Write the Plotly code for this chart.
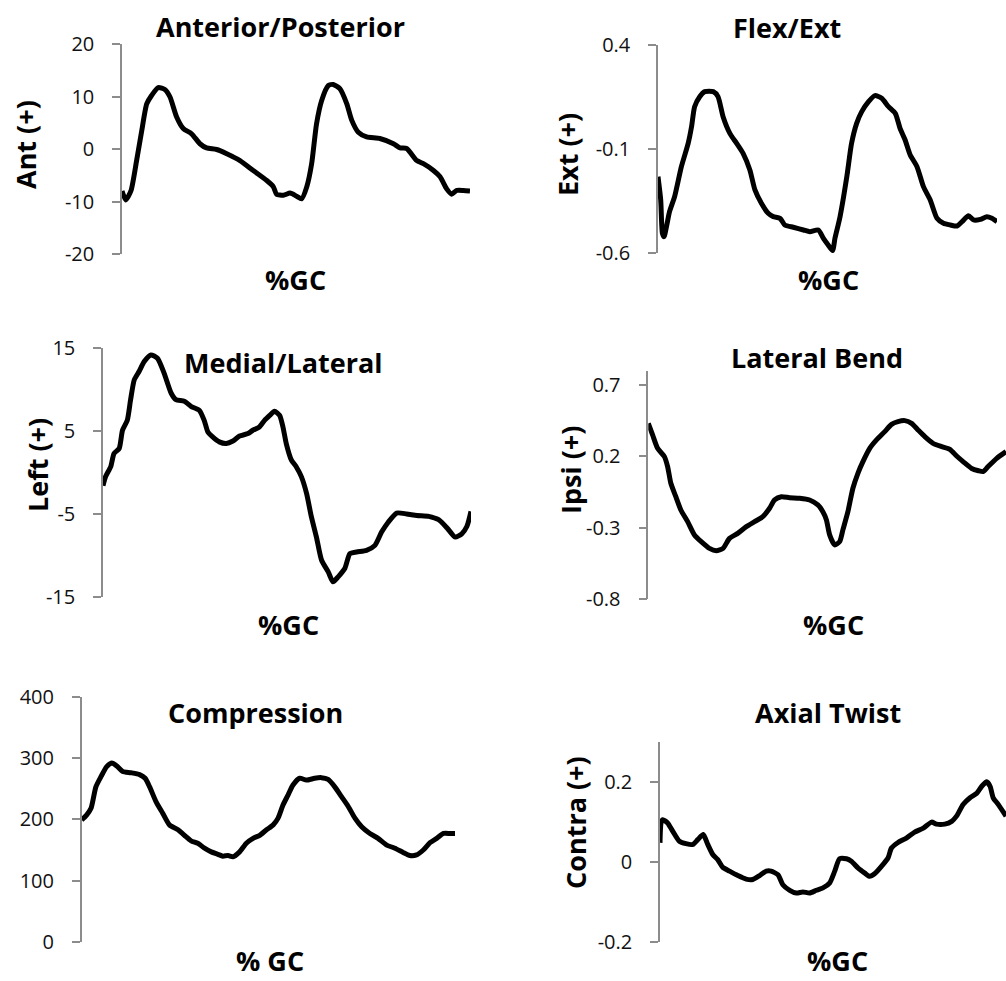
import plotly.graph_objects as go

W, H = 1006, 981
FONT = "Open Sans"

# ---- data (%GC on x) ----
ap_x = [0, 1.1, 2.6, 4.2, 5.7, 7.1, 8.5, 10.4, 12.4, 13.8, 15.7, 17.6, 20.0, 22.4, 24.3, 27.2,
        30.1, 33.9, 37.7, 41.6, 43.5, 44.4, 46.4, 48.3, 50.2, 51.6, 53.1, 54.5, 55.9, 57.4,
        59.3, 60.7, 62.6, 64.6, 66.0, 67.9, 70.3, 74.1, 78.0, 79.9, 81.8, 84.7, 86.6, 89.5,
        91.4, 93.3, 94.7, 96.2, 98.1, 100]
ap_y = [-8.0, -9.7, -7.9, -2.2, 3.6, 8.6, 10.2, 11.7, 11.3, 9.9, 6.1, 3.9, 2.9, 1.0, 0.2, -0.1,
        -0.9, -2.2, -4.1, -6.0, -7.2, -8.6, -8.8, -8.4, -9.0, -9.5, -7.2, -2.8, 4.8, 9.3,
        12.1, 12.3, 11.5, 8.6, 5.5, 3.2, 2.3, 2.0, 1.0, 0.2, 0.1, -2.2, -2.8, -4.1,
        -5.3, -7.6, -8.6, -7.9, -7.9, -8.0]

fe_x = [0, 0.8, 1.3, 1.8, 2.5, 3.4, 4.9, 6.9, 8.9, 9.9, 10.8, 12.3, 13.8, 16.3, 17.7, 19.2,
        21.2, 23.2, 25.1, 27.1, 28.6, 30.5, 32.5, 34.0, 36.0, 37.4, 39.9, 42.9, 44.8, 47.3,
        48.8, 50.2, 51.5, 52.2, 53.7, 55.7, 57.1, 58.6, 60.1, 62.1, 64.0, 66.0, 68.0, 70.0,
        71.4, 72.9, 74.4, 76.4, 78.3, 80.3, 82.3, 84.2, 86.2, 88.2, 89.7, 91.6, 93.1, 95.1,
        97.0, 98.5, 100]
fe_y = [-0.232, -0.344, -0.504, -0.52, -0.472, -0.40, -0.328, -0.184, -0.072, 0.008, 0.104,
        0.152, 0.176, 0.176, 0.152, 0.056, -0.024, -0.072, -0.12, -0.20, -0.296, -0.36,
        -0.408, -0.424, -0.432, -0.464, -0.475, -0.488, -0.496, -0.488, -0.528, -0.56,
        -0.587, -0.528, -0.424, -0.232, -0.072, 0.024, 0.08, 0.128, 0.157, 0.144, 0.104,
        0.072, 0.0, -0.056, -0.128, -0.184, -0.28, -0.344, -0.432, -0.456, -0.464, -0.469,
        -0.448, -0.42, -0.44, -0.437, -0.424, -0.432, -0.448]

ml_x = [0, 0.7, 2.1, 3.0, 4.4, 5.3, 6.6, 7.5, 8.5, 9.8, 11.2, 13.0, 14.8, 16.6, 18.5, 19.8,
        22.1, 23.9, 26.2, 27.5, 28.5, 29.8, 31.6, 33.5, 35.3, 37.1, 39.4, 40.7, 42.5, 43.9,
        45.3, 46.6, 48.0, 48.9, 49.8, 51.2, 52.5, 53.9, 55.3, 56.6, 58.0, 59.4, 61.2, 62.5,
        63.9, 65.7, 67.1, 68.9, 71.6, 73.9, 75.7, 77.5, 79.8, 82.5, 85.3, 88.5, 91.2, 93.5,
        95.7, 97.5, 98.9, 100]
ml_y = [-1.6, -0.5, 0.7, 2.3, 2.9, 5.1, 6.3, 8.8, 11.2, 12.2, 13.4, 14.2, 13.8, 12.0, 9.6, 8.8,
        8.6, 8.0, 7.5, 6.3, 4.9, 4.3, 3.7, 3.5, 3.8, 4.4, 4.7, 5.1, 5.5, 6.3,
        6.9, 7.4, 6.9, 5.5, 3.5, 1.5, 0.7, -0.5, -2.5, -5.3, -7.8, -10.6, -12.0, -13.2,
        -12.6, -11.6, -9.8, -9.6, -9.4, -8.8, -7.2, -6.0, -4.9, -5.0, -5.2, -5.3, -5.7, -6.7,
        -7.8, -7.4, -6.5, -4.7]

lb_x = [0, 1.2, 2.6, 4.5, 5.4, 6.3, 7.7, 9.1, 11.0, 12.9, 14.8, 17.1, 19.0, 20.9, 22.7, 25.0,
        27.4, 29.7, 32.0, 33.9, 35.3, 37.2, 39.5, 42.3, 45.1, 47.4, 48.8, 49.8, 50.7, 52.1,
        53.5, 54.4, 55.8, 57.2, 58.6, 60.0, 61.9, 63.8, 66.1, 68.0, 69.8, 71.7, 73.6, 75.4,
        77.3, 79.6, 82.0, 84.3, 86.2, 88.0, 90.4, 92.3, 93.6, 95.0, 97.4, 100]
lb_y = [0.431, 0.35, 0.256, 0.198, 0.128, 0.011, -0.083, -0.176, -0.258, -0.351, -0.398,
        -0.445, -0.461, -0.445, -0.375, -0.34, -0.293, -0.258, -0.223, -0.164, -0.106,
        -0.083, -0.09, -0.094, -0.106, -0.141, -0.188, -0.246, -0.351, -0.421, -0.398,
        -0.316, -0.188, -0.024, 0.081, 0.163, 0.256, 0.315, 0.373, 0.424, 0.443, 0.45,
        0.431, 0.385, 0.338, 0.291, 0.268, 0.249, 0.202, 0.163, 0.115, 0.099, 0.093, 0.128,
        0.186, 0.233]

cp_x = [0, 1.3, 2.5, 3.8, 5.2, 6.7, 8.1, 9.4, 11.0, 13.2, 15.5, 17.0, 18.2, 19.9, 21.7, 23.5,
        25.8, 27.5, 29.3, 31.1, 32.9, 34.7, 36.5, 37.8, 39.2, 40.5, 42.3, 44.1, 45.9, 47.7,
        49.5, 51.3, 52.6, 53.9, 55.3, 56.6, 58.4, 60.2, 62.4, 64.2, 66.0, 67.8, 69.6, 71.4,
        73.2, 75.0, 77.2, 79.4, 81.7, 83.9, 86.1, 87.9, 89.7, 91.5, 93.3, 95.1, 96.9, 98.7, 100]
cp_y = [199, 207, 218, 253, 270, 286, 292, 287, 278, 276, 273, 267, 253, 229, 210, 191,
        183, 174, 165, 161, 153, 147, 143, 140, 141, 139, 147, 161, 169, 174,
        183, 191, 202, 223, 240, 256, 267, 264, 267, 268, 265, 253, 237, 221,
        202, 188, 177, 169, 158, 153, 146, 141, 142, 150, 162, 169, 177, 177, 177]

at_x = [0, 0.3, 0.8, 2.2, 3.7, 5.6, 7.5, 9.5, 10.9, 12.5, 13.8, 15.3, 16.7, 18.1, 20.1, 22.5,
        24.9, 26.8, 28.8, 30.7, 32.1, 34.1, 35.5, 37.5, 39.4, 41.3, 43.2, 45.2, 47.1, 49.0,
        50.5, 51.9, 53.9, 55.3, 57.2, 59.2, 60.6, 62.1, 64.0, 65.9, 66.9, 68.8, 71.2, 73.6,
        76.1, 78.5, 79.9, 82.3, 84.3, 85.7, 87.6, 89.6, 91.5, 93.0, 94.4, 95.4, 96.3, 97.8, 100]
at_y = [0.048, 0.098, 0.106, 0.098, 0.077, 0.052, 0.046, 0.044, 0.056, 0.069, 0.044, 0.018,
        0.006, -0.013, -0.023, -0.034, -0.043, -0.044, -0.034, -0.023, -0.023, -0.032,
        -0.057, -0.071, -0.078, -0.075, -0.078, -0.071, -0.065, -0.053, -0.023, 0.008,
        0.008, 0.002, -0.015, -0.028, -0.036, -0.029, -0.011, 0.010, 0.035, 0.049, 0.060,
        0.075, 0.085, 0.100, 0.095, 0.095, 0.102, 0.115, 0.144, 0.161, 0.172, 0.190, 0.201,
        0.190, 0.161, 0.144, 0.115]

# ---- panel layout: (x data, y data, title, y title, x title, y range, ticks,
#      plot box in pixels: left, right, top of range, bottom of range,
#      text anchors in pixels) ----
panels = [
    dict(x=ap_x, y=ap_y, title="Anterior/Posterior", ytitle="Ant (+)", xtitle="%GC",
         yr=[-20, 20], tv=[-20, -10, 0, 10, 20], tt=["-20", "-10", "0", "10", "20"],
         box=(122, 470, 44, 254), tpos=(280, 26), ypos=(25, 145), xpos=(295, 279)),
    dict(x=fe_x, y=fe_y, title="Flex/Ext", ytitle="Ext (+)", xtitle="%GC",
         yr=[-0.6, 0.4], tv=[-0.6, -0.1, 0.4], tt=["-0.6", "-0.1", "0.4"],
         box=(658, 997, 45, 253.3), tpos=(787, 27), ypos=(567, 155), xpos=(828, 279)),
    dict(x=ml_x, y=ml_y, title="Medial/Lateral", ytitle="Left (+)", xtitle="%GC",
         yr=[-15, 15], tv=[-15, -5, 5, 15], tt=["-15", "-5", "5", "15"],
         box=(103, 471, 348.3, 596.7), tpos=(283, 363), ypos=(37, 465), xpos=(288, 624)),
    dict(x=lb_x, y=lb_y, title="Lateral Bend", ytitle="Ipsi (+)", xtitle="%GC",
         yr=[-0.8, 0.8], tv=[-0.8, -0.3, 0.2, 0.7], tt=["-0.8", "-0.3", "0.2", "0.7"],
         box=(648.3, 1006, 370.7, 599), tpos=(817, 357), ypos=(570, 470), xpos=(833, 624)),
    dict(x=cp_x, y=cp_y, title="Compression", ytitle=None, xtitle="% GC",
         yr=[0, 400], tv=[0, 100, 200, 300, 400], tt=["0", "100", "200", "300", "400"],
         box=(81.7, 455, 696.7, 942), tpos=(255, 712), ypos=None, xpos=(270, None)),
    dict(x=at_x, y=at_y, title="Axial Twist", ytitle="Contra (+)", xtitle="%GC",
         yr=[-0.2, 0.3], tv=[-0.2, 0, 0.2], tt=["-0.2", "0", "0.2"],
         box=(660, 1006, 742.4, 941.7), tpos=(828, 712), ypos=(575, 823), xpos=(837, None)),
]

BOLD = 27


def px(v):
    return v / W


def py(v):
    return 1 - v / H


fig = go.Figure()
annotations = []
layout = {}

for i, p in enumerate(panels, start=1):
    xa = "x" if i == 1 else f"x{i}"
    ya = "y" if i == 1 else f"y{i}"
    fig.add_trace(go.Scatter(
        x=p["x"], y=p["y"], mode="lines", xaxis=xa, yaxis=ya,
        line=dict(color="black", width=5, shape="spline", smoothing=0.6),
        showlegend=False, hoverinfo="skip", cliponaxis=False,
    ))
    l, r, t, b = p["box"]
    key = "" if i == 1 else str(i)
    layout[f"xaxis{key}"] = dict(
        domain=[px(l), min(px(r), 1.0)], range=[0, 100], visible=False,
        anchor=ya,
    )
    layout[f"yaxis{key}"] = dict(
        domain=[py(b), py(t)], range=p["yr"], anchor=xa, automargin=False,
        tickmode="array", tickvals=p["tv"], ticktext=p["tt"],
        showline=True, linecolor="#8c8c8c", linewidth=1.5,
        ticks="outside", ticklen=8, tickcolor="#8c8c8c", tickwidth=1.5,
        showgrid=False, zeroline=False,
        tickfont=dict(family=FONT, size=20, color="#111111"),
        ticklabelstandoff=14,
    )
    annotations.append(dict(
        text=f"<b>{p['title']}</b>", x=px(p["tpos"][0]), y=py(p["tpos"][1]),
        xref="paper", yref="paper", showarrow=False, xanchor="center", yanchor="middle",
        font=dict(family=FONT, size=BOLD, color="black"),
    ))
    # x-axis caption; bottom-row captions sit on the lower edge of the figure
    xt_x, xt_y = p["xpos"]
    annotations.append(dict(
        text=f"<b>{p['xtitle']}</b>", x=px(xt_x), y=0 if xt_y is None else py(xt_y),
        xref="paper", yref="paper", showarrow=False, xanchor="center",
        yanchor="bottom" if xt_y is None else "middle",
        font=dict(family=FONT, size=BOLD, color="black"),
    ))
    if p["ytitle"]:
        annotations.append(dict(
            text=f"<b>{p['ytitle']}</b>", x=px(p["ypos"][0]), y=py(p["ypos"][1]),
            xref="paper", yref="paper", showarrow=False, xanchor="center", yanchor="middle",
            textangle=-90, font=dict(family=FONT, size=BOLD, color="black"),
        ))

fig.update_layout(
    width=W, height=H, margin=dict(l=0, r=0, t=0, b=0, pad=0, autoexpand=False),
    paper_bgcolor="white", plot_bgcolor="white",
    annotations=annotations, **layout,
)

fig.write_html("out.html")
